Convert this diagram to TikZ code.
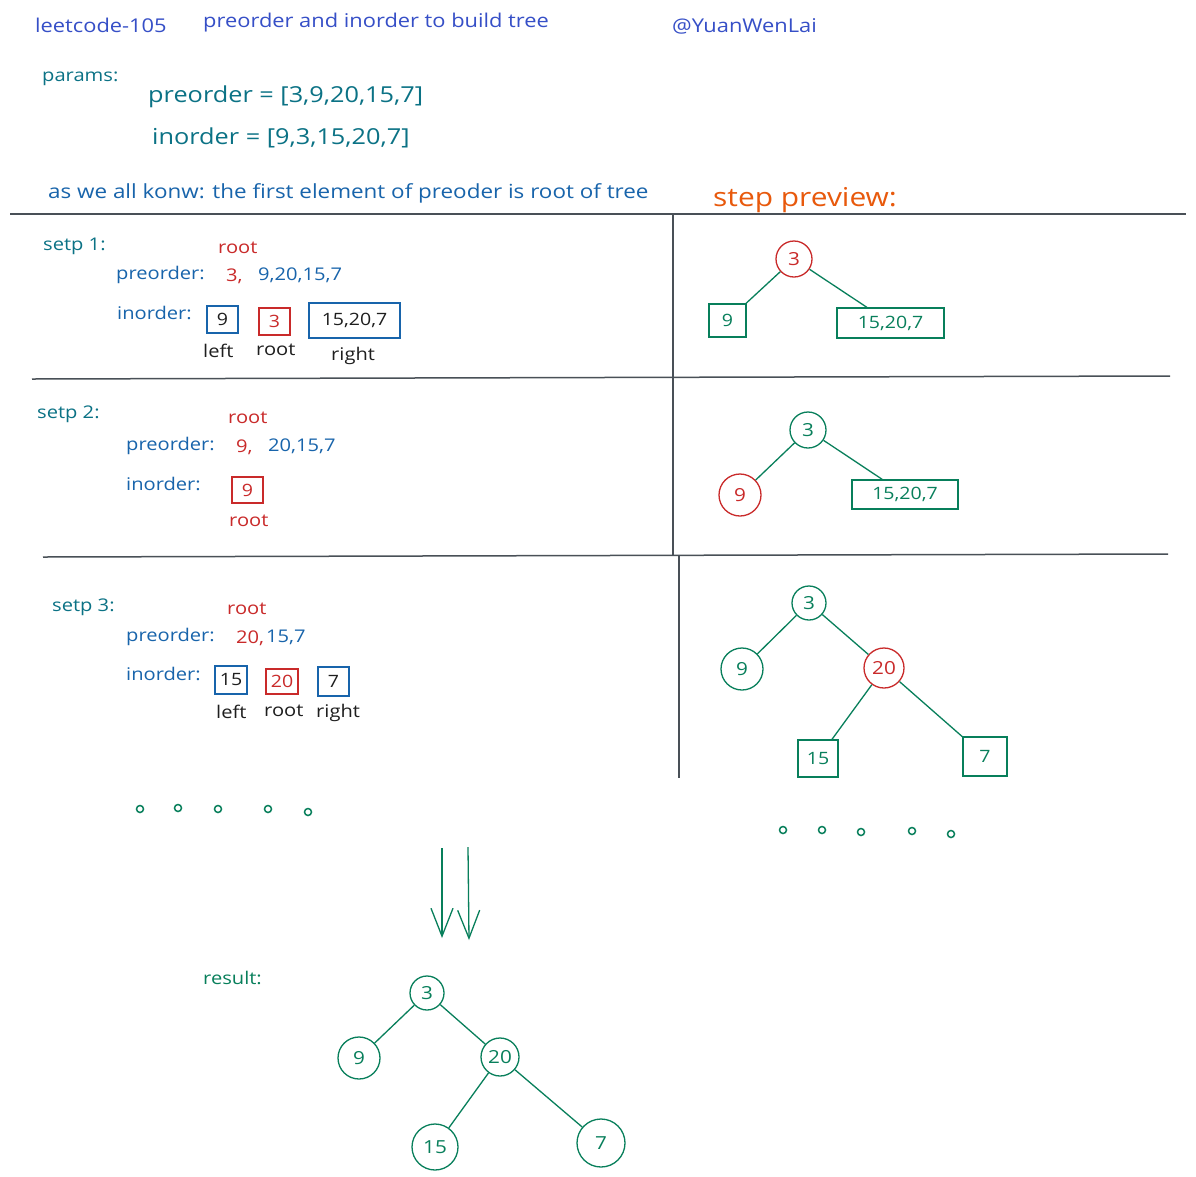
\documentclass[tikz,border=0pt]{standalone}
\usepackage{fontspec}
\setmainfont{Open Sans}[FakeStretch=1.15]
\usetikzlibrary{arrows.meta}
\definecolor{cblue}{HTML}{1864AB}
\definecolor{ctitle}{HTML}{364FC7}
\definecolor{cteal}{HTML}{0B7285}
\definecolor{cgreen}{HTML}{087F5B}
\definecolor{cred}{HTML}{C92A2A}
\definecolor{corange}{HTML}{E8590C}
\definecolor{cline}{HTML}{495057}
\definecolor{cink}{HTML}{1E1E1E}
\begin{document}
\begin{tikzpicture}[x=1pt,y=-1pt,
 lbl/.style={inner sep=0pt, anchor=west, font=\fontsize{19}{19}\selectfont},
 small/.style={inner sep=0pt, anchor=west, font=\fontsize{17.5}{17.5}\selectfont},
 big/.style={inner sep=0pt, anchor=west, font=\fontsize{22}{22}\selectfont},
 sep/.style={draw=cline, line width=1.5pt},
 ibox/.style={rectangle, draw, line width=1.2pt, inner sep=0pt, font=\fontsize{17}{17}\selectfont, text=cink},
 tcirc/.style={circle, draw=cgreen, line width=1.3pt, inner sep=0pt, text=cgreen, font=\fontsize{18}{18}\selectfont},
 tbox/.style={rectangle, draw=cgreen, line width=1.3pt, inner sep=0pt, text=cgreen, font=\fontsize{17}{17}\selectfont},
 tedge/.style={draw=cgreen, line width=1.3pt},
 dotmark/.style={circle, draw=cgreen, line width=1.5pt, inner sep=0pt, minimum size=7pt}
]
\useasboundingbox[fill=white] (0,0) rectangle (1196,1176);

% header
\node[lbl, text=ctitle] (t1) at (35,25) {leetcode-105};
\node[lbl, text=ctitle] (t2) at (203,23) {preorder and inorder to build tree};
\node[lbl, text=ctitle] (t3) at (672,26) {@YuanWenLai};
\node[small, text=cteal] (pa) at (42,79) {params:};
\node[big, text=cteal] (pre) at (148,97) {preorder = [3,9,20,15,7]};
\node[big, text=cteal] (ino) at (152,138) {inorder = [9,3,15,20,7]};
\node[lbl, font=\fontsize{19.5}{19.5}\selectfont, text=cblue] (know) at (48,193) {as we all konw: the first element of preoder is root of tree};
\node[inner sep=0pt, anchor=west, font=\fontsize{26}{26}\selectfont, text=corange] (sp) at (713,200) {step preview:};

% separators
\coordinate (h1a) at (10,214); \coordinate (h1b) at (1186,214);
\coordinate (h2a) at (32,379); \coordinate (h2b) at (1170,376);
\coordinate (h3a) at (43,557); \coordinate (h3b) at (1168,554);
\coordinate (v1a) at (673,214); \coordinate (v1b) at (673,556);
\coordinate (v2a) at (679,556); \coordinate (v2b) at (679,778);
\draw[sep] (h1a) -- (h1b);
\draw[sep] (h2a) -- (h2b);
\draw[sep] (h3a) -- (h3b);
\draw[sep] (v1a) -- (v1b);
\draw[sep] (v2a) -- (v2b);

% step 1
\node[small, text=cteal] (s1) at (43,246) {setp 1:};
\node[small, text=cred] (s1r) at (218,248) {root};
\node[small, text=cblue] (s1p) at (116,275) {preorder:};
\node[small, text=cred] (s1p3) at (226,276) {3,};
\node[small, text=cblue] (s1pr) at (258,275) {9,20,15,7};
\node[small, text=cblue] (s1i) at (117,313) {inorder:};
\node[ibox, draw=cblue, minimum width=31pt, minimum height=27pt] (b19) at (222.5,319.5) {9};
\node[ibox, draw=cred, text=cred, minimum width=31pt, minimum height=27pt] (b13) at (274.5,321.5) {3};
\node[ibox, draw=cblue, minimum width=91pt, minimum height=35pt] (b1r) at (354.5,320.5) {15,20,7};
\node[small, text=cink] (l1) at (203,351) {left};
\node[small, text=cink] (r1) at (256,350) {root};
\node[small, text=cink] (g1) at (331,356) {right};

% step 2
\node[small, text=cteal] (s2) at (37,414) {setp 2:};
\node[small, text=cred] (s2r) at (228,418) {root};
\node[small, text=cblue] (s2p) at (126,446) {preorder:};
\node[small, text=cred] (s2p9) at (236,447) {9,};
\node[small, text=cblue] (s2pr) at (268,446) {20,15,7};
\node[small, text=cblue] (s2i) at (126,484) {inorder:};
\node[ibox, draw=cred, text=cred, minimum width=31pt, minimum height=26pt] (b29) at (247.5,490) {9};
\node[small, text=cred] (s2rr) at (229,521) {root};

% step 3
\node[small, text=cteal] (s3) at (52,607) {setp 3:};
\node[small, text=cred] (s3r) at (227,609) {root};
\node[small, text=cblue] (s3p) at (126,637) {preorder:};
\node[small, text=cred] (s3p20) at (236,638) {20,};
\node[small, text=cblue] (s3pr) at (266,637) {15,7};
\node[small, text=cblue] (s3i) at (126,674) {inorder:};
\node[ibox, draw=cblue, minimum width=32pt, minimum height=28pt] (b315) at (231,680) {15};
\node[ibox, draw=cred, text=cred, minimum width=32pt, minimum height=25pt] (b320) at (282,681.5) {20};
\node[ibox, draw=cblue, minimum width=31pt, minimum height=29pt] (b37) at (333.5,681.5) {7};
\node[small, text=cink] (l3) at (216,712) {left};
\node[small, text=cink] (r3) at (264,711) {root};
\node[small, text=cink] (g3) at (316,713) {right};

% dots left
\node[dotmark] (d1) at (140,809) {};
\node[dotmark] (d2) at (178,808) {};
\node[dotmark] (d3) at (218,809) {};
\node[dotmark] (d4) at (268,809) {};
\node[dotmark] (d5) at (308,812) {};

% preview tree 1
\node[tcirc, draw=cred, text=cred, minimum size=36pt] (p1a) at (794,259) {3};
\node[tbox, minimum width=37pt, minimum height=33pt] (p1b) at (727.5,320.5) {9};
\node[tbox, minimum width=107pt, minimum height=30pt] (p1c) at (890.5,323) {15,20,7};
\draw[tedge] (p1a) -- (p1b);
\draw[tedge] (p1a) -- (p1c);

% preview tree 2
\node[tcirc, minimum size=36pt] (p2a) at (808,430) {3};
\node[tcirc, draw=cred, text=cred, minimum size=42pt] (p2b) at (740,495) {9};
\node[tbox, minimum width=106pt, minimum height=29pt] (p2c) at (905,494.5) {15,20,7};
\draw[tedge] (p2a) -- (p2b);
\draw[tedge] (p2a) -- (p2c);

% preview tree 3
\node[tcirc, minimum size=34pt] (p3a) at (809,603) {3};
\node[tcirc, minimum size=42pt] (p3b) at (742,669) {9};
\node[tcirc, draw=cred, text=cred, minimum size=40pt] (p3c) at (884,668) {20};
\node[tbox, minimum width=40pt, minimum height=37pt] (p3d) at (818,758.5) {15};
\node[tbox, minimum width=44pt, minimum height=39pt] (p3e) at (985,756.5) {7};
\draw[tedge] (p3a) -- (p3b);
\draw[tedge] (p3a) -- (p3c);
\draw[tedge] (p3c) -- (p3d);
\draw[tedge] (p3c) -- (p3e);

% dots right
\node[dotmark] (d6) at (783,830) {};
\node[dotmark] (d7) at (822,830) {};
\node[dotmark] (d8) at (861,832) {};
\node[dotmark] (d9) at (912,831) {};
\node[dotmark] (d10) at (951,834) {};

% arrows
\coordinate (a1s) at (442,848); \coordinate (a1e) at (442,938);
\coordinate (a2s) at (468,847); \coordinate (a2e) at (469,940);
\draw[tedge, -{Straight Barb[length=28pt,width=22pt]}] (a1s) -- (a1e);
\draw[tedge, -{Straight Barb[length=28pt,width=22pt]}] (a2s) -- (a2e);

% result
\node[small, text=cgreen] (res) at (203,978) {result:};
\node[tcirc, minimum size=34pt] (ra) at (427,993) {3};
\node[tcirc, minimum size=42pt] (rb) at (359,1058) {9};
\node[tcirc, minimum size=38pt] (rc) at (500,1057) {20};
\node[tcirc, minimum size=46pt] (rd) at (435,1147) {15};
\node[tcirc, minimum size=48pt] (re) at (601,1143) {7};
\draw[tedge] (ra) -- (rb);
\draw[tedge] (ra) -- (rc);
\draw[tedge] (rc) -- (rd);
\draw[tedge] (rc) -- (re);
\end{tikzpicture}
\end{document}
